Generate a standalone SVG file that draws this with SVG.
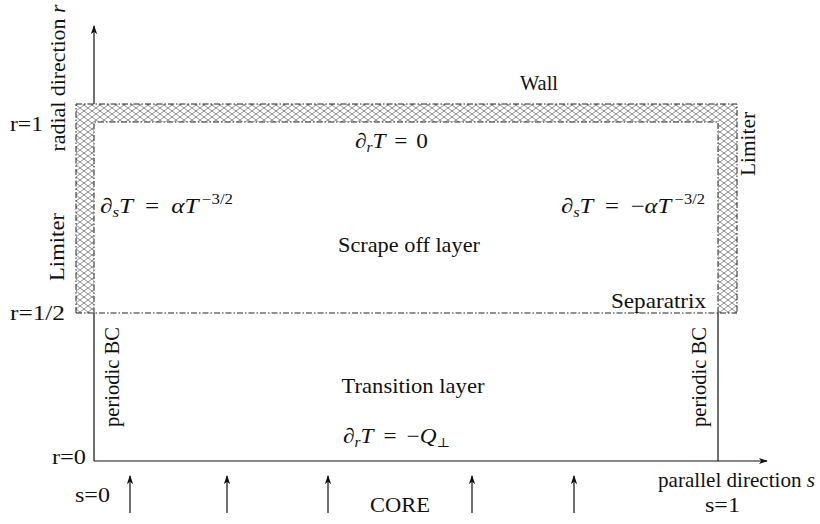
<svg xmlns="http://www.w3.org/2000/svg" width="820" height="524" viewBox="0 0 820 524">
<style>
text{font-family:"Liberation Serif","Times New Roman",serif;font-size:21px;fill:#111}
.i{font-style:italic}
.sm{font-size:14px}
.ax{stroke:#111;stroke-width:1.2;fill:none}
.dd{stroke:#222;stroke-width:1;fill:none;stroke-dasharray:6 2 1.5 2}
.perp{font-family:"DejaVu Serif","DejaVu Sans",serif;font-size:13px;fill:#111}
</style>
<defs>
<pattern id="hatch" patternUnits="userSpaceOnUse" width="8" height="6">
<path d="M0,0 L8,6 M0,6 L8,0" stroke="#444" stroke-width="0.6" fill="none"/>
</pattern>
<marker id="ah" viewBox="0 0 10 10" refX="9" refY="5" markerWidth="9" markerHeight="9" markerUnits="userSpaceOnUse" orient="auto">
<path d="M0,1.5 L10,5 L0,8.5 L2.5,5 Z" fill="#111"/>
</marker>
</defs>

<g id="wall-limiter">
<path d="M76,104 H737 V313 H718 V122 H94 V313 H76 Z" fill="url(#hatch)"/>
<path d="M76,104 H737 V313 M718,313 V122 H94 V313 M76,313 V104" class="dd"/>
</g>

<g id="connectors">
<line x1="94" y1="461" x2="94" y2="313" class="ax"/>
<line x1="94" y1="104" x2="94" y2="26" class="ax" marker-end="url(#ah)"/>
<line x1="94" y1="461" x2="767" y2="461" class="ax" marker-end="url(#ah)"/>
<line x1="718" y1="313" x2="718" y2="461" class="ax"/>
<line x1="76" y1="313" x2="737" y2="313" class="dd"/>
<line x1="130" y1="513" x2="130" y2="476" class="ax" marker-end="url(#ah)"/>
<line x1="227" y1="513" x2="227" y2="476" class="ax" marker-end="url(#ah)"/>
<line x1="328" y1="513" x2="328" y2="476" class="ax" marker-end="url(#ah)"/>
<line x1="472" y1="513" x2="472" y2="476" class="ax" marker-end="url(#ah)"/>
<line x1="574" y1="513" x2="574" y2="476" class="ax" marker-end="url(#ah)"/>
</g>

<g id="axis-labels">
<text x="65" y="78" transform="rotate(-90 65 78)" text-anchor="middle" textLength="147" lengthAdjust="spacingAndGlyphs">radial direction <tspan class="i">r</tspan></text>
<text x="658" y="487" font-size="19" textLength="157" lengthAdjust="spacingAndGlyphs">parallel direction <tspan class="i">s</tspan></text>
<text x="43" y="131" text-anchor="end" textLength="33" lengthAdjust="spacingAndGlyphs">r=1</text>
<text x="65" y="320" text-anchor="end" textLength="55" lengthAdjust="spacingAndGlyphs">r=1/2</text>
<text x="86" y="464" text-anchor="end" textLength="34" lengthAdjust="spacingAndGlyphs">r=0</text>
<text x="75" y="502" textLength="35" lengthAdjust="spacingAndGlyphs">s=0</text>
<text x="705" y="512" textLength="35" lengthAdjust="spacingAndGlyphs">s=1</text>
</g>

<g id="wall"><text x="520" y="90" textLength="38" lengthAdjust="spacingAndGlyphs">Wall</text></g>
<g id="limiter-left"><text x="64" y="247" transform="rotate(-90 64 247)" text-anchor="middle" textLength="68" lengthAdjust="spacingAndGlyphs">Limiter</text></g>
<g id="limiter-right"><text x="755" y="144" transform="rotate(-90 755 144)" text-anchor="middle" textLength="64" lengthAdjust="spacingAndGlyphs">Limiter</text></g>

<g id="sol">
<text x="409" y="252" text-anchor="middle" textLength="142" lengthAdjust="spacingAndGlyphs">Scrape off layer</text>
<text x="355" y="148" textLength="73" lengthAdjust="spacingAndGlyphs">∂<tspan class="i sm" dy="4">r</tspan><tspan class="i" dy="-4">T</tspan><tspan dx="8">=</tspan><tspan dx="8">0</tspan></text>
<text x="100" y="213" textLength="133" lengthAdjust="spacingAndGlyphs">∂<tspan class="i sm" dy="4">s</tspan><tspan class="i" dy="-4">T</tspan><tspan dx="10">=</tspan><tspan class="i" dx="10">αT</tspan><tspan class="sm" dx="3" dy="-9">−3/2</tspan></text>
<text x="561" y="213" textLength="144" lengthAdjust="spacingAndGlyphs">∂<tspan class="i sm" dy="4">s</tspan><tspan class="i" dy="-4">T</tspan><tspan dx="10">=</tspan><tspan dx="10">−</tspan><tspan class="i">αT</tspan><tspan class="sm" dx="3" dy="-9">−3/2</tspan></text>
</g>

<g id="separatrix"><text x="706" y="308" text-anchor="end" textLength="95" lengthAdjust="spacingAndGlyphs">Separatrix</text></g>

<g id="transition">
<text x="413" y="393" text-anchor="middle" textLength="143" lengthAdjust="spacingAndGlyphs">Transition layer</text>
<text x="343" y="443" textLength="107" lengthAdjust="spacingAndGlyphs">∂<tspan class="i sm" dy="4">r</tspan><tspan class="i" dy="-4">T</tspan><tspan dx="9">=</tspan><tspan dx="9">−</tspan><tspan class="i">Q</tspan><tspan class="perp" dy="4">⊥</tspan></text>
</g>

<g id="periodic-left"><text x="119" y="377" transform="rotate(-90 119 377)" text-anchor="middle" textLength="100" lengthAdjust="spacingAndGlyphs">periodic BC</text></g>
<g id="periodic-right"><text x="706" y="377" transform="rotate(-90 706 377)" text-anchor="middle" textLength="100" lengthAdjust="spacingAndGlyphs">periodic BC</text></g>

<g id="core"><text x="370" y="512" textLength="60" lengthAdjust="spacingAndGlyphs">CORE</text></g>
</svg>
